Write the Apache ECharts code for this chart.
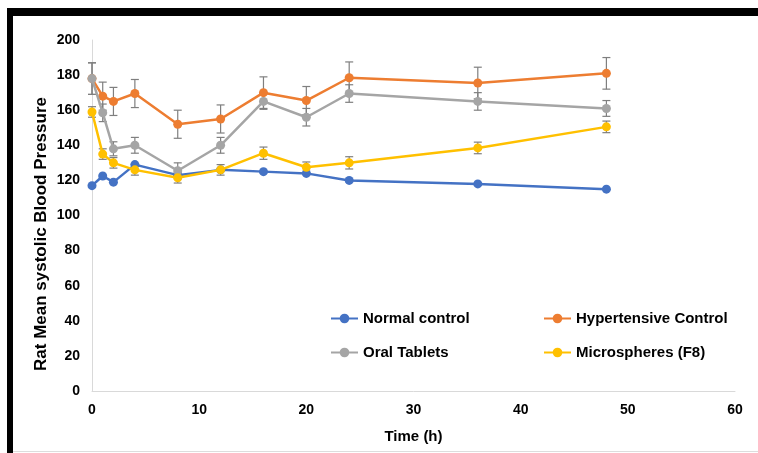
<!DOCTYPE html>
<html>
<head>
<meta charset="utf-8">
<script src="https://cdn.jsdelivr.net/npm/echarts@6/dist/echarts.min.js"></script>
<style>
html,body{margin:0;padding:0;background:#fff;}
#wrap{position:relative;width:758px;height:453px;overflow:hidden;background:#fff;}
#topbar{position:absolute;left:7px;top:8px;width:751px;height:8px;background:#000;}
#leftbar{position:absolute;left:7px;top:8px;width:6px;height:445px;background:#000;}
#botline{position:absolute;left:13px;top:451px;width:745px;height:1px;background:#ddd;}
#chart{position:absolute;left:0;top:0;width:758px;height:453px;}
</style>
</head>
<body>
<div id="wrap">
<div id="chart"></div>
<div id="topbar"></div>
<div id="leftbar"></div>
<div id="botline"></div>
</div>
<script>
const times = [0, 1, 2, 4, 8, 12, 16, 20, 24, 36, 48];
const normalControl = [117, 122.5, 119, 129, 123, 126, 125, 124, 120, 118, 115];
const hypertensiveControl = [178, 168, 165, 169.5, 152, 155, 170, 165.5, 178.5, 175.5, 181];
const oralTablets = [178, 158.5, 138, 140, 125.5, 140, 165, 156, 169.5, 165, 161];
const microspheres = [159, 135, 130, 126, 121.5, 126, 135.5, 127.5, 130, 138.5, 150.5];
const hypertensiveErr = [9, 8, 8, 8, 8, 8, 9, 8, 9, 9, 9];
const oralErr = [9, 5, 4, 4.5, 4.5, 4.5, 4.5, 5, 5, 5, 4.5];
const microErr = [3, 3, 3, 3, 3, 3, 3.5, 3, 3.5, 3.3, 3.3];
const seriesNames = ['Normal control', 'Hypertensive Control', 'Oral Tablets', 'Microspheres (F8)'];
const colors = ['#4472C4', '#ED7D31', '#A5A5A5', '#FFC000'];
const yTitle = 'Rat Mean systolic Blood Pressure';
const xTitle = 'Time (h)';

const font = 'Liberation Sans, Arial, sans-serif';
const chart = echarts.init(document.getElementById('chart'), null, {renderer: 'canvas'});

function pairs(vals) { return times.map((t, i) => [t, vals[i]]); }
function errData(vals, errs) { return times.map((t, i) => [t, vals[i] - errs[i], vals[i] + errs[i]]); }

function errSeries(vals, errs) {
  return {
    type: 'custom',
    data: errData(vals, errs),
    z: 1,
    silent: true,
    encode: {x: 0, y: [1, 2]},
    renderItem: function (params, api) {
      const lo = api.coord([api.value(0), api.value(1)]);
      const hi = api.coord([api.value(0), api.value(2)]);
      const hw = 4;
      const st = {stroke: '#7F7F7F', lineWidth: 1.2};
      return {
        type: 'group',
        children: [
          {type: 'line', shape: {x1: lo[0], y1: lo[1], x2: hi[0], y2: hi[1]}, style: st},
          {type: 'line', shape: {x1: lo[0] - hw, y1: lo[1], x2: lo[0] + hw, y2: lo[1]}, style: st},
          {type: 'line', shape: {x1: hi[0] - hw, y1: hi[1], x2: hi[0] + hw, y2: hi[1]}, style: st}
        ]
      };
    }
  };
}

function lineSeries(name, vals, color, z) {
  return {
    name: name,
    type: 'line',
    data: pairs(vals),
    symbol: 'circle',
    symbolSize: 9,
    z: z,
    lineStyle: {color: color, width: 2.5},
    itemStyle: {color: color},
    emphasis: {disabled: true}
  };
}

const legendText = {color: '#000', fontSize: 15, fontWeight: 'bold', fontFamily: font};

chart.setOption({
  animation: false,
  grid: {left: 92, right: 23, top: 40, bottom: 62, containLabel: false},
  graphic: [{
    type: 'text', x: 41, y: 234, rotation: Math.PI / 2,
    style: {text: yTitle, fill: '#000', font: 'bold 17px ' + font, align: 'center', verticalAlign: 'middle'}
  }],
  xAxis: {
    type: 'value', min: 0, max: 60, interval: 10,
    name: xTitle, nameLocation: 'middle', nameGap: 38,
    nameTextStyle: {color: '#000', fontSize: 15, fontWeight: 'bold', fontFamily: font},
    axisLine: {show: true, lineStyle: {color: '#D9D9D9', width: 1}},
    axisTick: {show: false},
    splitLine: {show: false},
    axisLabel: {color: '#000', fontSize: 14, fontWeight: 'bold', fontFamily: font, margin: 12}
  },
  yAxis: {
    type: 'value', min: 0, max: 200, interval: 20,
    axisLine: {show: true, lineStyle: {color: '#D9D9D9', width: 1}},
    axisTick: {show: false},
    splitLine: {show: false},
    axisLabel: {color: '#000', fontSize: 14, fontWeight: 'bold', fontFamily: font, margin: 12}
  },
  legend: [
    {
      data: [seriesNames[0], seriesNames[2]], orient: 'vertical', left: 330, top: 311, padding: 0,
      itemWidth: 27, itemHeight: 12, itemGap: 19, textStyle: legendText
    },
    {
      data: [seriesNames[1], seriesNames[3]], orient: 'vertical', left: 543, top: 311, padding: 0,
      itemWidth: 27, itemHeight: 12, itemGap: 19, textStyle: legendText
    }
  ],
  series: [
    errSeries(hypertensiveControl, hypertensiveErr),
    errSeries(oralTablets, oralErr),
    errSeries(microspheres, microErr),
    lineSeries(seriesNames[0], normalControl, colors[0], 2),
    lineSeries(seriesNames[1], hypertensiveControl, colors[1], 3),
    lineSeries(seriesNames[2], oralTablets, colors[2], 4),
    lineSeries(seriesNames[3], microspheres, colors[3], 5)
  ]
});
</script>
</body>
</html>
